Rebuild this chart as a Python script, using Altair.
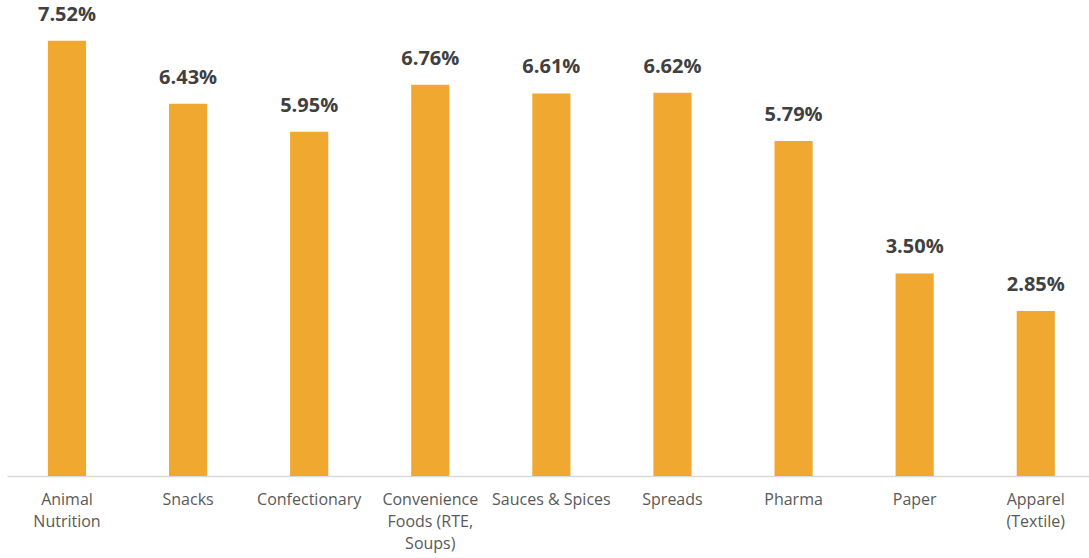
import altair as alt
import pandas as pd

categories = ["Animal|Nutrition", "Snacks", "Confectionary", "Convenience|Foods (RTE,|Soups)",
              "Sauces & Spices", "Spreads", "Pharma", "Paper", "Apparel|(Textile)"]
values = [7.52, 6.43, 5.95, 6.76, 6.61, 6.62, 5.79, 3.50, 2.85]

df = pd.DataFrame({"category": categories, "value": values})

x = alt.X("category:N", sort=None, title=None,
          scale=alt.Scale(paddingInner=0.685, paddingOuter=0.31, align=0.545),
          axis=alt.Axis(labelExpr="split(datum.label, '|')", labelAngle=0, ticks=False,
                        labelPadding=15, labelFont="Open Sans", labelFontSize=16,
                        labelColor="#595959", labelLineHeight=22, domainColor="#d9d9d9",
                        domainWidth=1.5, labelBaseline="top"))
y = alt.Y("value:Q", scale=alt.Scale(domain=[0, 8]), axis=None)

bars = alt.Chart(df).mark_bar(color="#F0A830").encode(x=x, y=y)
text = alt.Chart(df).transform_calculate(
    label="format(datum.value, '.2f') + '%'"
).mark_text(baseline="bottom", dy=-16, font="Open Sans", fontWeight="bold",
            fontSize=20, color="#404040").encode(x=x, y=y, text="label:N")

chart = (bars + text).properties(
    width=1082, height=463,
    padding={"left": 7, "top": 13, "right": 0, "bottom": 82},
    autosize=alt.AutoSizeParams(type="none"),
    background="white",
).configure_view(stroke=None)

chart.save("out.html", embed_options={"renderer": "svg", "actions": False})
